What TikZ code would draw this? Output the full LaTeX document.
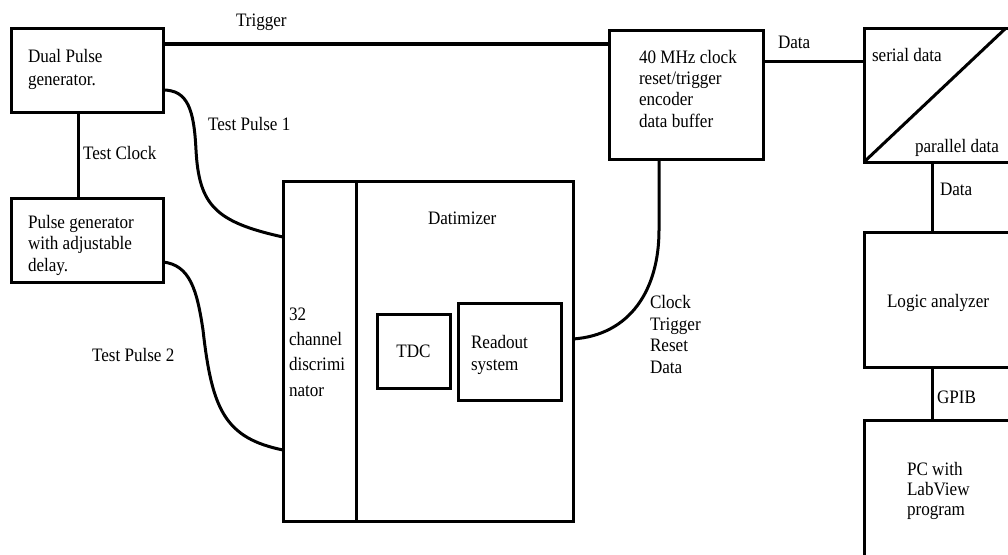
\documentclass[tikz,border=0pt]{standalone}
\usepackage{fontspec}
\setmainfont{Liberation Serif}[FakeStretch=0.9]
\begin{document}
\begin{tikzpicture}[x=1pt,y=-1pt,
  box/.style={draw, line width=3pt, outer sep=0pt, inner sep=0pt},
  lbl/.style={anchor=base west, inner sep=0pt, outer sep=0pt, align=left,
    font=\fontsize{19}{21.5}\selectfont},
  wire/.style={line width=3pt},
  trig/.style={line width=4pt}]
\useasboundingbox[fill=white] (0,0) rectangle (1008,554);
\clip (0,0) rectangle (1008,554);
% boxes
\node[box, minimum width=152pt, minimum height=84pt] (dual) at (87,70) {};
\node[box, minimum width=152pt, minimum height=84pt] (pgen) at (87,240) {};
\node[box, minimum width=73pt, minimum height=340pt] (disc) at (319.5,351) {};
\node[box, minimum width=217pt, minimum height=340pt] (dat) at (464.5,351) {};
\node[box, minimum width=73pt, minimum height=74pt] (tdc) at (413.5,351) {};
\node[box, minimum width=103pt, minimum height=97pt] (ro) at (509.5,351.5) {};
\node[box, minimum width=154pt, minimum height=129pt] (enc) at (686,94.5) {};
\node[box, minimum width=148pt, minimum height=134pt] (sp) at (938,95) {};
\node[box, minimum width=156pt, minimum height=135pt] (la) at (942,299.5) {};
\node[box, minimum width=156pt, minimum height=160pt] (pc) at (942,500) {};
% helper coordinates
\coordinate (trigY) at (0,44);
\coordinate (clkX) at (78,0);
\coordinate (dataY) at (0,61);
\coordinate (dataX) at (932,0);
\coordinate (diagEnd) at (1006,28);
% connectors
\draw[trig] (dual.east |- trigY) -- (enc.west |- trigY);
\draw[wire] (dual.south -| clkX) -- (pgen.north -| clkX);
\draw[wire] ([yshift=-20pt]dual.east) .. controls (188,90) and (194,110) .. (196,150)
  .. controls (199,205) and (215,222) .. ([yshift=114pt]disc.west);
\draw[wire] ([yshift=-22pt]pgen.east) .. controls (190,265) and (197,290) .. (203,330)
  .. controls (212,410) and (225,438) .. ([yshift=-99pt]disc.west);
\draw[wire] ([yshift=12pt]dat.east) .. controls (630,335) and (659,290) .. (659,230)
  -- ([xshift=-27pt]enc.south);
\draw[wire] (enc.east |- dataY) -- (sp.west |- dataY);
\draw[wire] (sp.south west) -- (diagEnd);
\draw[wire] (sp.south -| dataX) -- (la.north -| dataX);
\draw[wire] (la.south -| dataX) -- (pc.north -| dataX);
% labels (anchor = baseline of the last line)
\node[lbl, font=\fontsize{19}{23}\selectfont] (tDual) at (28,85) {Dual Pulse\\generator.};
\node[lbl] (tPgen) at (28,271) {Pulse generator\\with adjustable\\delay.};
\node[lbl] (tTrig) at (236,27) {Trigger};
\node[lbl] (tClk) at (83,159) {Test Clock};
\node[lbl] (tTP1) at (208,130) {Test Pulse 1};
\node[lbl] (tTP2) at (92,361) {Test Pulse 2};
\node[lbl] (tDat) at (428,224) {Datimizer};
\node[lbl, font=\fontsize{19}{25.3}\selectfont] (tDisc) at (289,396) {32\\channel\\discrimi\\nator};
\node[inner sep=0pt, font=\fontsize{19}{21.5}\selectfont] (tTDC) at (tdc.center) {TDC};
\node[lbl, font=\fontsize{19}{22}\selectfont] (tRo) at (471,370) {Readout\\system};
\node[lbl] (tCTRD) at (650,373) {Clock\\Trigger\\Reset\\Data};
\node[lbl, font=\fontsize{19}{21.3}\selectfont] (tEnc) at (639,127) {40 MHz clock\\reset/trigger\\encoder\\data buffer};
\node[lbl] (tData1) at (778,48) {Data};
\node[lbl] (tSer) at (872,61) {serial data};
\node[lbl] (tPar) at (915,152) {parallel data};
\node[lbl] (tData2) at (940,195) {Data};
\node[lbl] (tLA) at (887,307) {Logic analyzer};
\node[lbl] (tGPIB) at (937,403) {GPIB};
\node[lbl, font=\fontsize{19}{20}\selectfont] (tPC) at (907,515) {PC with\\LabView\\program};
\end{tikzpicture}
\end{document}
